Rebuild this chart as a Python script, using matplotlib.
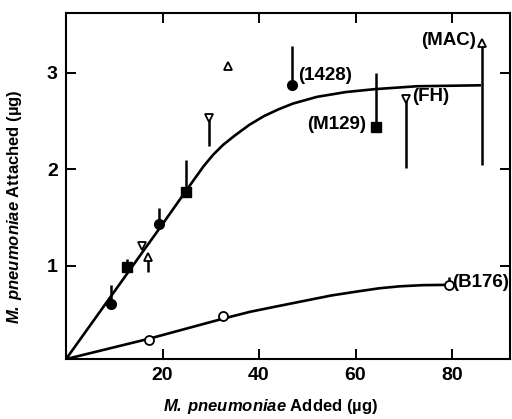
import numpy as np
import matplotlib.pyplot as plt

plt.rcParams['font.family'] = ['Liberation Sans', 'DejaVu Sans']
plt.rcParams['mathtext.fontset'] = 'custom'
plt.rcParams['mathtext.bfit'] = 'Liberation Sans:italic:bold'
plt.rcParams['mathtext.bf'] = 'Liberation Sans:bold'

# --- courbes ---
upper_x = [0, 10, 20, 24.5, 26.5, 28.5, 30.5, 32.5, 35, 38, 41, 44, 47, 52, 58, 64, 72.7, 86]
upper_y = [0.03, 0.73, 1.43, 1.75, 1.89, 2.03, 2.15, 2.25, 2.35, 2.46, 2.55, 2.62, 2.68, 2.75, 2.80, 2.83, 2.86, 2.87]
lower_x = [0, 17.1, 32.6, 38.1, 44, 50, 55, 60.2, 65, 69.2, 74, 79.3]
lower_y = [0.03, 0.24, 0.45, 0.52, 0.58, 0.64, 0.69, 0.73, 0.765, 0.785, 0.797, 0.80]

# --- points : (x, y, extrémité de la barre d'erreur) ---
fcirc_x = [9.3, 19.2, 46.9]
fcirc_y = [0.60, 1.43, 2.87]
fcirc_e = [0.80, 1.60, 3.28]

fsq_x = [12.7, 24.8, 64.2]
fsq_y = [0.99, 1.76, 2.44]
fsq_e = [1.07, 2.10, 3.00]

dtri_x = [15.8, 29.7, 70.4]
dtri_y = [1.20, 2.53, 2.73]
dtri_e = [1.20, 2.24, 2.01]

utri_x = [17.0, 33.6, 86.2]
utri_y = [1.09, 3.07, 3.31]
utri_e = [0.93, 3.07, 2.04]

ocirc_x = [17.1, 32.6, 79.3]
ocirc_y = [0.23, 0.48, 0.80]
ocirc_e = [0.23, 0.53, 0.88]

labels = ["(1428)", "(M129)", "(FH)", "(MAC)", "(B176)"]

fig = plt.figure(figsize=(5.12, 4.19), dpi=100)
ax = fig.add_axes([0.129, 0.143, 0.867, 0.826])

ax.plot(upper_x, upper_y, "k-", lw=1.9, solid_capstyle="butt")
ax.plot(lower_x, lower_y, "k-", lw=1.9, solid_capstyle="butt")

for xs, ys, es in [(fcirc_x, fcirc_y, fcirc_e), (fsq_x, fsq_y, fsq_e),
                   (dtri_x, dtri_y, dtri_e), (utri_x, utri_y, utri_e),
                   (ocirc_x, ocirc_y, ocirc_e)]:
    ax.vlines(xs, ys, es, colors="k", lw=1.8)

ax.plot(fcirc_x, fcirc_y, "o", color="k", ms=7, zorder=5)
ax.plot(fsq_x, fsq_y, "s", color="k", ms=6.5, zorder=5)
ax.plot(dtri_x, dtri_y, "v", mfc="white", mec="k", mew=1.3, ms=6, zorder=5)
ax.plot(utri_x, utri_y, "^", mfc="white", mec="k", mew=1.3, ms=6, zorder=5)
ax.plot(ocirc_x, ocirc_y, "o", mfc="white", mec="k", mew=1.3, ms=6.5, zorder=5)

kw = dict(fontsize=13.5, fontweight="bold", va="center")
ax.text(fcirc_x[2] + 1.1, fcirc_y[2] + 0.1, labels[0], ha="left", **kw)
ax.text(fsq_x[2] - 2.0, fsq_y[2] + 0.02, labels[1], ha="right", **kw)
ax.text(dtri_x[2] + 1.3, dtri_y[2] + 0.02, labels[2], ha="left", **kw)
ax.text(utri_x[2] - 1.3, utri_y[2] + 0.02, labels[3], ha="right", **kw)
ax.text(ocirc_x[2] + 0.7, ocirc_y[2] + 0.02, labels[4], ha="left", **kw)

ax.set_xlim(0, 92)
ax.set_ylim(0.03, 3.62)
ax.set_xticks([20, 40, 60, 80])
ax.set_yticks([1, 2, 3])
ax.tick_params(direction="in", length=7, width=1.4, top=True, right=True,
               labelsize=14, pad=6)
for lab in ax.get_xticklabels() + ax.get_yticklabels():
    lab.set_fontweight("bold")
for sp in ax.spines.values():
    sp.set_linewidth(1.5)

ax.set_xlabel(r"$\mathbfit{M.}\,\mathbfit{pneumoniae}$ Added (µg)",
              fontsize=12, fontweight="bold")
ax.set_ylabel(r"$\mathbfit{M.}\,\mathbfit{pneumoniae}$ Attached (µg)",
              fontsize=12, fontweight="bold")
ax.xaxis.set_label_coords(0.46, -0.11)
ax.yaxis.set_label_coords(-0.095, 0.44)

plt.savefig("out.png", dpi=100)
